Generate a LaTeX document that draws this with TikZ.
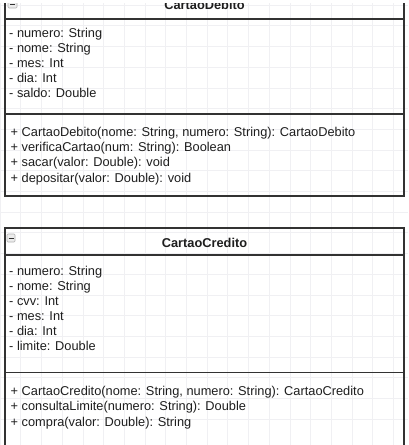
\documentclass[tikz,border=0pt]{standalone}
\usepackage{fontspec}
\setmainfont{Liberation Sans}
\definecolor{gridc}{RGB}{240,240,243}
\definecolor{linec}{RGB}{50,50,50}
\definecolor{txtc}{RGB}{30,30,30}
\begin{document}
\begin{tikzpicture}[x=1pt,y=-1pt,
  boxline/.style={draw=linec,line width=1.3pt},
  member/.style={anchor=base west,inner sep=0pt,font=\fontsize{12.8}{15}\selectfont,text=txtc},
  classtitle/.style={anchor=base,inner sep=0pt,font=\fontsize{12.8}{15}\selectfont\bfseries,text=txtc},
  iconbox/.style={draw=gray!60,fill=gray!15,rounded corners=1pt,line width=0.6pt}]
\useasboundingbox (0,0) rectangle (408,445);
\clip (0,0) rectangle (408,445);
\fill[white] (0,0) rectangle (408,445);
% grid
\foreach \i in {0,...,20} {
  \draw[gridc,line width=0.6pt] (\i*20.7,0) -- (\i*20.7,445);
  \draw[gridc,line width=0.6pt] (0,\i*20.7+5) -- (408,\i*20.7+5);
}
% ---------- CartaoDebito ----------
\draw[boxline] (5,-8) rectangle (404,196);
\draw[boxline] (5,19) -- (404,19);
\draw[boxline] (5,114) -- (404,114);
\draw[iconbox] (8,0) rectangle (17,8);
\draw[linec,line width=1pt] (10,4) -- (15,4);
\node[classtitle] (t1) at (204.5,9.5) {CartaoDebito};
\node[member] (a1) at (9,37.5) {- numero: String};
\node[member] (a2) at (9,52.6) {- nome: String};
\node[member] (a3) at (9,67.7) {- mes: Int};
\node[member] (a4) at (9,82.8) {- dia: Int};
\node[member] (a5) at (9,97.9) {- saldo: Double};
\node[member] (m1) at (10.5,136.7) {+ CartaoDebito(nome: String, numero: String): CartaoDebito};
\node[member] (m2) at (10.5,151.8) {+ verificaCartao(num: String): Boolean};
\node[member] (m3) at (10.5,166.9) {+ sacar(valor: Double): void};
\node[member] (m4) at (10.5,182.0) {+ depositar(valor: Double): void};
\fill[white] (0,0) rectangle (408,3);
% ---------- CartaoCredito ----------
\draw[boxline] (5,460) -- (5,228) -- (404,228) -- (404,460);
\draw[boxline] (5,255) -- (404,255);
\draw[boxline] (5,372.5) -- (404,372.5);
\draw[iconbox] (7,234) rectangle (15,242);
\draw[linec,line width=1pt] (8.5,238) -- (13.5,238);
\node[classtitle] (t2) at (204.5,247.3) {CartaoCredito};
\node[member] (b1) at (9,275.3) {- numero: String};
\node[member] (b2) at (9,290.4) {- nome: String};
\node[member] (b3) at (9,305.5) {- cvv: Int};
\node[member] (b4) at (9,320.6) {- mes: Int};
\node[member] (b5) at (9,335.7) {- dia: Int};
\node[member] (b6) at (9,350.8) {- limite: Double};
\node[member] (n1) at (10.5,395.7) {+ CartaoCredito(nome: String, numero: String): CartaoCredito};
\node[member] (n2) at (10.5,410.9) {+ consultaLimite(numero: String): Double};
\node[member] (n3) at (10.5,426.0) {+ compra(valor: Double): String};
\end{tikzpicture}
\end{document}
